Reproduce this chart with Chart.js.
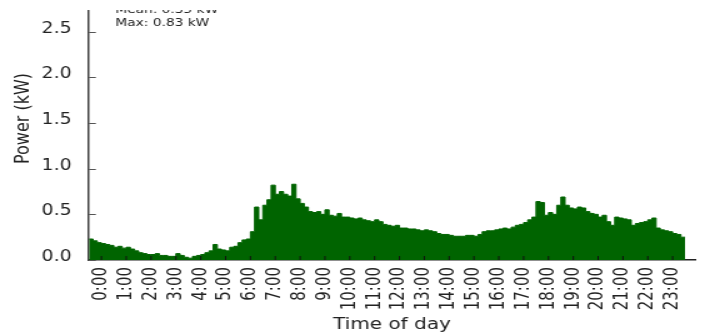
<!DOCTYPE html>
<html>
<head>
<meta charset="utf-8">
<script src="https://cdn.jsdelivr.net/npm/chart.js@4.4.1/dist/chart.umd.min.js"></script>
<style>
  html, body { margin: 0; padding: 0; background: #fff; overflow: hidden; width: 705px; height: 335px; }
  #wrap { position: absolute; left: 0; top: -25px; width: 564px; height: 360px; transform: scaleX(1.25); transform-origin: 0 0; }
  canvas { display: block; }
</style>
</head>
<body>
<div id="wrap"><canvas id="c" width="564" height="360"></canvas></div>
<script>
// Average household power draw over a day, 10-minute bins (kW)
const binMinutes = 10;

const hourLabels = [
  '0:00', '1:00', '2:00', '3:00', '4:00', '5:00', '6:00', '7:00',
  '8:00', '9:00', '10:00', '11:00', '12:00', '13:00', '14:00', '15:00',
  '16:00', '17:00', '18:00', '19:00', '20:00', '21:00', '22:00', '23:00'
];

const power = [
  0.23, 0.21, 0.19, 0.18, 0.17, 0.16,   // 0h
  0.14, 0.15, 0.13, 0.14, 0.12, 0.10,   // 1h
  0.08, 0.07, 0.06, 0.06, 0.07, 0.05,   // 2h
  0.05, 0.04, 0.04, 0.07, 0.05, 0.03,   // 3h
  0.02, 0.04, 0.05, 0.06, 0.08, 0.10,   // 4h
  0.17, 0.12, 0.11, 0.10, 0.14, 0.15,   // 5h
  0.19, 0.22, 0.23, 0.31, 0.58, 0.44,   // 6h
  0.60, 0.66, 0.82, 0.72, 0.75, 0.72,   // 7h
  0.70, 0.83, 0.67, 0.62, 0.58, 0.53,   // 8h
  0.52, 0.53, 0.50, 0.55, 0.49, 0.48,   // 9h
  0.51, 0.47, 0.47, 0.46, 0.45, 0.46,   // 10h
  0.44, 0.43, 0.42, 0.44, 0.42, 0.39,   // 11h
  0.38, 0.37, 0.38, 0.35, 0.35, 0.34,   // 12h
  0.34, 0.33, 0.32, 0.33, 0.32, 0.31,   // 13h
  0.29, 0.28, 0.28, 0.27, 0.26, 0.26,   // 14h
  0.26, 0.27, 0.27, 0.26, 0.28, 0.31,   // 15h
  0.32, 0.32, 0.33, 0.34, 0.35, 0.34,   // 16h
  0.36, 0.38, 0.39, 0.41, 0.44, 0.47,   // 17h
  0.64, 0.63, 0.49, 0.52, 0.50, 0.60,   // 18h
  0.69, 0.60, 0.57, 0.56, 0.58, 0.57,   // 19h
  0.53, 0.51, 0.50, 0.47, 0.49, 0.42,   // 20h
  0.38, 0.47, 0.46, 0.45, 0.44, 0.38,   // 21h
  0.40, 0.41, 0.42, 0.44, 0.46, 0.35,   // 22h
  0.33, 0.32, 0.31, 0.29, 0.28, 0.25    // 23h
];

const yTickValues = [0, 0.5, 1.0, 1.5, 2.0, 2.5];

const FONT = 'DejaVu Sans';
const INK = '#222';
const GREEN = '#006400';

// step points: each bin's value holds until the next bin starts
const points = power.map((v, i) => ({ x: i * binMinutes / 60, y: v }));
points.push({ x: power.length * binMinutes / 60, y: power[power.length - 1] });

const meanKW = power.reduce((s, v) => s + v, 0) / power.length;
const maxKW = Math.max(...power);

// small tick marks pointing into the plot
const innerTicks = {
  id: 'innerTicks',
  afterDatasetsDraw(chart) {
    const { ctx, chartArea: a, scales: { x, y } } = chart;
    ctx.save();
    ctx.lineWidth = 1;
    ctx.strokeStyle = '#555';
    y.ticks.forEach(t => {
      const py = Math.round(y.getPixelForValue(t.value)) + 0.5;
      ctx.beginPath(); ctx.moveTo(a.left, py); ctx.lineTo(a.left + 5.5, py); ctx.stroke();
    });
    ctx.strokeStyle = '#111';
    x.ticks.forEach(t => {
      const px = x.getPixelForValue(t.value);
      ctx.beginPath(); ctx.moveTo(px, a.bottom); ctx.lineTo(px, a.bottom - 4); ctx.stroke();
    });
    ctx.restore();
  }
};

// summary text in the upper left of the plot, trimmed at the top edge
const summary = {
  id: 'summary',
  afterDraw(chart) {
    const { ctx, chartArea: a } = chart;
    ctx.save();
    ctx.font = `11px "${FONT}"`;
    ctx.fillStyle = INK;
    ctx.textAlign = 'left';
    ctx.textBaseline = 'middle';
    ctx.fillText(`Mean: ${meanKW.toFixed(2)} kW`, a.left + 21, 35);
    ctx.fillText(`Max: ${maxKW.toFixed(2)} kW`, a.left + 21, 48);
    ctx.fillStyle = '#fff';
    ctx.fillRect(0, 0, chart.width, 35);
    ctx.restore();
  }
};

new Chart(document.getElementById('c'), {
  type: 'line',
  data: {
    datasets: [{
      data: points,
      stepped: true,
      fill: 'origin',
      backgroundColor: GREEN,
      borderColor: GREEN,
      borderWidth: 1,
      pointRadius: 0
    }]
  },
  options: {
    responsive: false,
    animation: false,
    devicePixelRatio: 1,
    layout: { padding: { top: 2, right: 8, left: 0, bottom: 0 } },
    plugins: { legend: { display: false }, tooltip: { enabled: false } },
    scales: {
      x: {
        type: 'linear',
        min: 0,
        max: 24.4,
        afterBuildTicks: s => { s.ticks = hourLabels.map((_, h) => ({ value: h + 0.5 })); },
        afterFit: s => { s.height = 75; s.paddingLeft = 0; s.paddingRight = 0; },
        grid: { display: false, drawTicks: false },
        border: { display: true, color: '#222', width: 1.5 },
        ticks: {
          autoSkip: false,
          minRotation: 90,
          maxRotation: 90,
          padding: 7,
          color: INK,
          font: { family: FONT, size: 15 },
          callback: v => hourLabels[Math.round(v - 0.5)]
        },
        title: {
          display: true,
          text: 'Time of day',
          color: INK,
          font: { family: FONT, size: 16, lineHeight: 1.25 },
          padding: { top: 0, bottom: 0 }
        }
      },
      y: {
        min: 0,
        max: 3.1,
        afterBuildTicks: s => { s.ticks = yTickValues.map(v => ({ value: v })); },
        afterFit: s => { s.width = 71.2; s.paddingTop = 0; s.paddingBottom = 0; },
        grid: { display: false, drawTicks: false },
        border: { display: true, color: '#444', width: 1.5 },
        ticks: {
          padding: 14,
          labelOffset: -3,
          color: INK,
          font: { family: FONT, size: 15 },
          callback: v => Number(v).toFixed(1)
        },
        title: {
          display: true,
          text: 'Power (kW)',
          color: INK,
          font: { family: FONT, size: 16, lineHeight: 1.25 },
          padding: { top: 8.4, bottom: 0 }
        }
      }
    }
  },
  plugins: [innerTicks, summary]
});
</script>
</body>
</html>
